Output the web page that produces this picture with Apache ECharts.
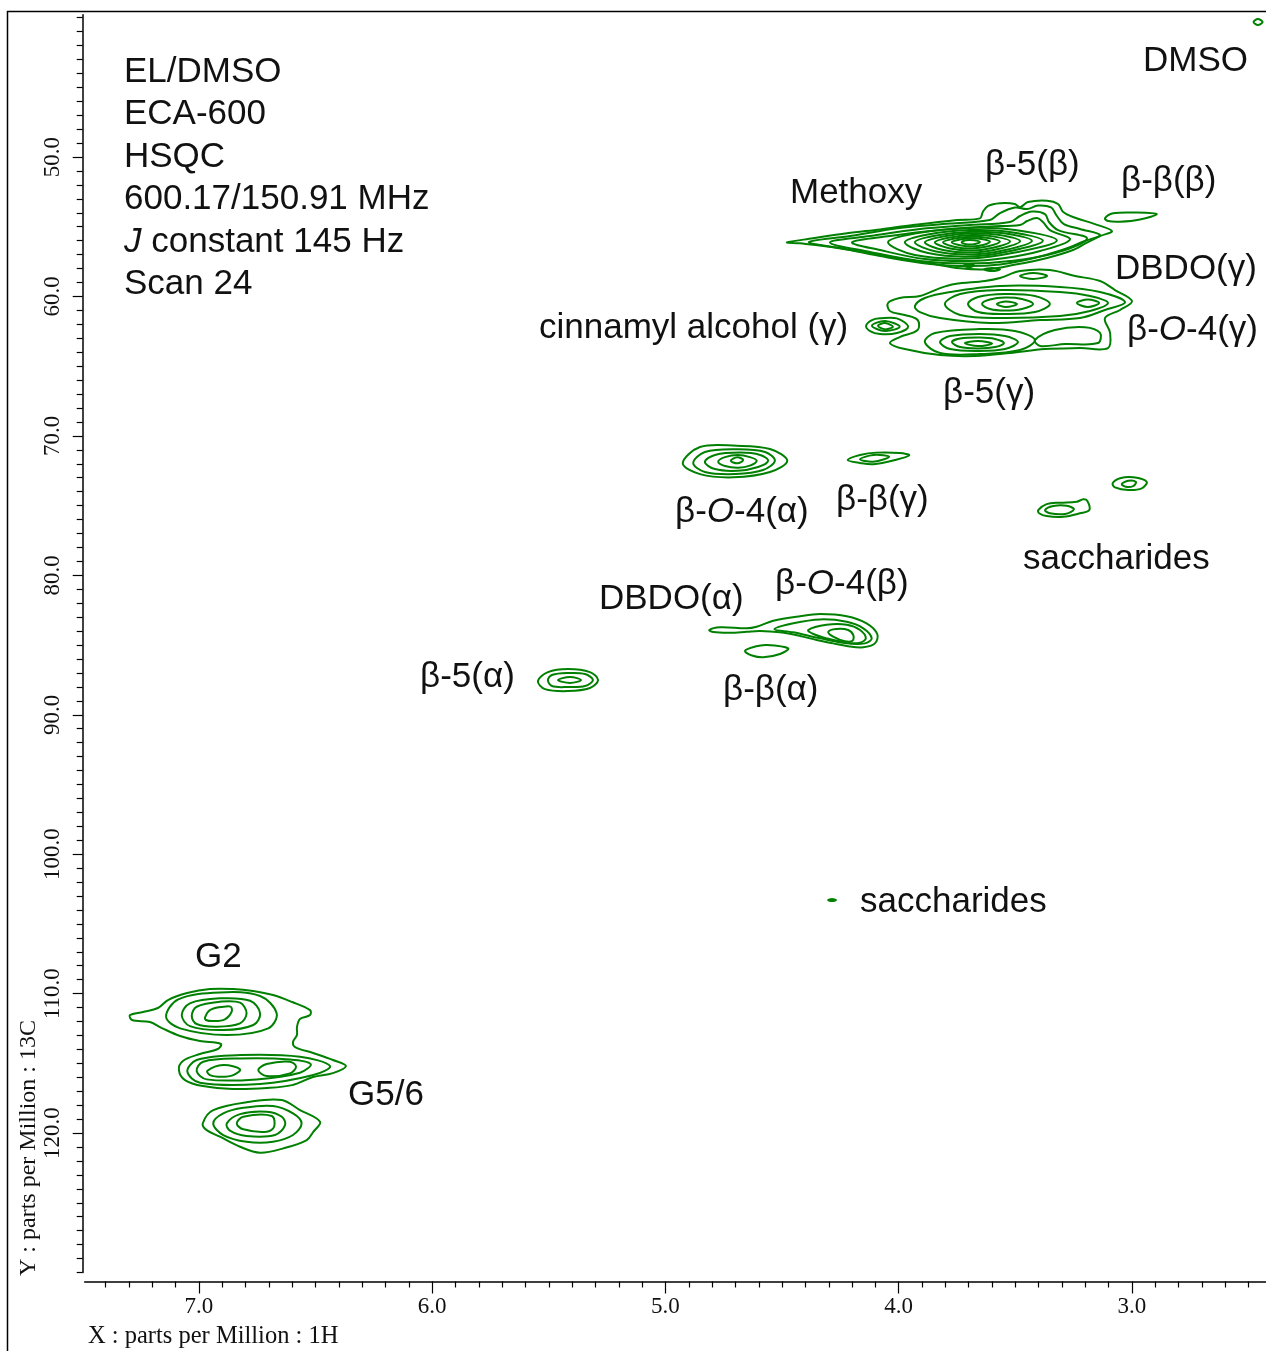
<!DOCTYPE html>
<html>
<head>
<meta charset="utf-8">
<title>EL/DMSO HSQC</title>
<script src="https://cdn.jsdelivr.net/npm/echarts@6.0.0/dist/echarts.min.js"></script>
<style>
  html, body { margin: 0; padding: 0; background: #fff; }
  #main { width: 1266px; height: 1351px; }
</style>
</head>
<body>
<div id="main"></div>
<script>
// axis ticks (ppm)
const xMajorTicks = [3, 4, 5, 6, 7];
const yMajorTicks = [50, 60, 70, 80, 90, 100, 110, 120];

// contour rings, [1H ppm, 13C ppm]
const dmsoRings = [
  [[2.479, 40.32], [2.460, 40.10], [2.440, 40.32], [2.460, 40.53]]
];
const methoxyRings = [
  [[4.479, 56.12], [4.368, 55.83], [4.222, 55.47], [4.080, 55.19], [3.939, 54.88], [3.750, 54.52], [3.652, 54.40], [3.639, 53.92], [3.617, 53.51], [3.566, 53.32], [3.502, 53.37], [3.480, 53.61], [3.446, 53.23], [3.364, 53.13], [3.317, 53.37], [3.296, 53.92], [3.253, 54.30], [3.159, 54.81], [3.086, 55.31], [3.137, 55.67], [3.197, 56.17], [3.253, 56.67], [3.364, 57.24], [3.510, 57.75], [3.622, 58.05], [3.737, 57.98], [3.866, 57.62], [4.080, 57.03], [4.295, 56.43], [4.423, 56.19]],
  [[4.385, 56.10], [4.209, 55.67], [3.996, 55.09], [3.780, 54.77], [3.609, 54.52], [3.566, 54.02], [3.502, 53.62], [3.450, 53.73], [3.403, 53.48], [3.347, 53.62], [3.322, 54.23], [3.292, 54.81], [3.223, 55.16], [3.137, 55.59], [3.202, 56.02], [3.300, 56.67], [3.437, 57.32], [3.566, 57.71], [3.703, 57.82], [3.866, 57.67], [4.080, 57.10], [4.252, 56.53]],
  [[4.295, 56.13], [4.123, 55.67], [3.909, 55.16], [3.695, 54.88], [3.523, 54.66], [3.480, 54.23], [3.429, 53.91], [3.373, 54.09], [3.356, 54.66], [3.317, 55.24], [3.193, 55.85], [3.330, 56.89], [3.523, 57.46], [3.703, 57.64], [3.909, 57.46], [4.123, 56.81]],
  [[4.200, 56.12], [4.038, 55.67], [3.823, 55.24], [3.609, 54.98], [3.480, 54.88], [3.450, 54.59], [3.407, 54.38], [3.382, 54.66], [3.352, 55.24], [3.266, 55.92], [3.394, 56.74], [3.544, 57.24], [3.703, 57.46], [3.888, 57.32], [4.080, 56.67]],
  [[4.046, 56.12], [3.931, 55.49], [3.703, 55.09], [3.502, 55.24], [3.322, 55.99], [3.502, 56.85], [3.703, 57.28], [3.931, 57.03]],
  [[3.974, 56.12], [3.875, 55.56], [3.695, 55.24], [3.532, 55.36], [3.382, 56.01], [3.532, 56.78], [3.695, 57.14], [3.875, 56.89]],
  [[3.931, 56.12], [3.840, 55.63], [3.686, 55.36], [3.549, 55.47], [3.429, 56.02], [3.549, 56.69], [3.686, 56.99], [3.840, 56.78]],
  [[3.888, 56.12], [3.810, 55.70], [3.686, 55.47], [3.574, 55.58], [3.480, 56.04], [3.574, 56.60], [3.686, 56.85], [3.810, 56.67]],
  [[3.845, 56.12], [3.780, 55.77], [3.686, 55.59], [3.596, 55.69], [3.523, 56.05], [3.596, 56.50], [3.686, 56.71], [3.780, 56.56]],
  [[3.810, 56.12], [3.759, 55.85], [3.686, 55.72], [3.617, 55.80], [3.566, 56.06], [3.617, 56.40], [3.686, 56.56], [3.759, 56.45]],
  [[3.773, 56.12], [3.737, 55.92], [3.686, 55.83], [3.639, 55.90], [3.609, 56.08], [3.639, 56.31], [3.686, 56.42], [3.737, 56.33]],
  [[3.730, 56.12], [3.712, 55.97], [3.677, 55.97], [3.652, 56.10], [3.677, 56.25], [3.712, 56.25]],
  [[3.720, 57.78], [3.699, 57.67], [3.677, 57.78], [3.699, 57.89]],
  [[3.634, 58.07], [3.600, 57.96], [3.566, 58.07], [3.600, 58.18]]
];
const betaBetaBetaRings = [
  [[3.116, 54.40], [3.081, 54.04], [2.987, 53.98], [2.894, 54.09], [2.966, 54.48], [3.051, 54.64], [3.103, 54.59]]
];
const sideChainRings = [
  [[4.046, 60.47], [3.996, 60.11], [3.909, 59.97], [3.823, 59.40], [3.759, 59.11], [3.630, 58.89], [3.566, 58.68], [3.480, 58.18], [3.352, 58.10], [3.244, 58.53], [3.137, 58.89], [3.073, 59.54], [3.000, 60.33], [3.051, 60.97], [3.116, 61.55], [3.094, 62.62], [3.103, 63.70], [3.223, 63.70], [3.373, 63.77], [3.523, 64.06], [3.673, 64.27], [3.823, 64.20], [3.974, 63.77], [4.038, 63.34], [3.996, 62.91], [3.919, 62.41], [3.919, 61.69], [3.974, 61.33], [4.038, 61.04]],
  [[3.931, 60.69], [3.888, 60.11], [3.780, 59.68], [3.566, 59.25], [3.309, 59.32], [3.137, 59.68], [3.030, 60.40], [3.116, 60.97], [3.223, 61.55], [3.394, 61.69], [3.609, 61.91], [3.823, 61.55], [3.909, 61.12]],
  [[3.802, 60.54], [3.737, 59.83], [3.566, 59.54], [3.309, 59.68], [3.180, 59.97], [3.103, 60.47], [3.180, 61.04], [3.309, 61.40], [3.566, 61.55], [3.737, 61.33]],
  [[3.703, 60.54], [3.660, 60.04], [3.544, 59.83], [3.416, 59.97], [3.352, 60.54], [3.416, 61.12], [3.544, 61.26], [3.660, 61.12]],
  [[3.643, 60.54], [3.609, 60.22], [3.544, 60.08], [3.472, 60.18], [3.424, 60.54], [3.472, 60.90], [3.544, 61.01], [3.609, 60.90]],
  [[3.579, 60.54], [3.540, 60.36], [3.493, 60.54], [3.540, 60.76]],
  [[3.236, 60.47], [3.189, 60.22], [3.141, 60.47], [3.189, 60.76]],
  [[3.416, 63.12], [3.331, 62.41], [3.202, 62.20], [3.137, 62.62], [3.146, 63.34], [3.287, 63.41], [3.394, 63.55]],
  [[3.888, 63.27], [3.845, 62.62], [3.652, 62.34], [3.502, 62.48], [3.416, 63.12], [3.480, 63.84], [3.652, 64.13], [3.823, 64.06]],
  [[3.823, 63.27], [3.780, 62.84], [3.652, 62.69], [3.544, 62.84], [3.489, 63.27], [3.544, 63.77], [3.660, 63.91], [3.780, 63.77]],
  [[3.772, 63.27], [3.737, 63.02], [3.652, 62.95], [3.587, 63.05], [3.549, 63.34], [3.587, 63.63], [3.660, 63.73], [3.737, 63.63]],
  [[3.716, 63.34], [3.660, 63.20], [3.600, 63.38], [3.660, 63.56]],
  [[3.480, 58.53], [3.424, 58.32], [3.364, 58.53], [3.424, 58.75]]
];
const cinnamylRings = [
  [[4.140, 62.10], [4.115, 61.69], [4.080, 61.57], [4.008, 61.57], [3.960, 62.17], [4.008, 62.62], [4.080, 62.69], [4.123, 62.48]],
  [[4.115, 62.10], [4.059, 61.76], [3.996, 62.17], [4.059, 62.48]],
  [[4.089, 62.10], [4.059, 61.91], [4.025, 62.17], [4.059, 62.36]]
];
const betaO4AlphaRings = [
  [[4.926, 71.97], [4.852, 70.80], [4.695, 70.71], [4.552, 70.94], [4.478, 71.78], [4.552, 72.59], [4.709, 72.97], [4.852, 72.74]],
  [[4.881, 71.94], [4.831, 71.15], [4.691, 70.96], [4.573, 71.15], [4.531, 71.78], [4.582, 72.45], [4.700, 72.74], [4.831, 72.59]],
  [[4.831, 71.87], [4.788, 71.37], [4.680, 71.20], [4.594, 71.37], [4.560, 71.78], [4.603, 72.23], [4.691, 72.50], [4.788, 72.38]],
  [[4.774, 71.85], [4.745, 71.52], [4.689, 71.37], [4.638, 71.52], [4.609, 71.78], [4.638, 72.13], [4.689, 72.28], [4.745, 72.16]],
  [[4.720, 71.78], [4.692, 71.54], [4.667, 71.73], [4.692, 71.97]]
];
const betaBetaGammaRings = [
  [[4.219, 71.73], [4.166, 71.37], [4.095, 71.20], [3.996, 71.23], [3.955, 71.39], [4.016, 71.73], [4.109, 72.03], [4.166, 71.94]],
  [[4.166, 71.68], [4.109, 71.37], [4.041, 71.49], [4.109, 71.85]]
];
const saccharideRings = [
  [[3.402, 75.32], [3.366, 74.89], [3.309, 74.79], [3.237, 74.72], [3.209, 74.55], [3.192, 74.65], [3.183, 75.32], [3.223, 75.55], [3.295, 75.80], [3.366, 75.75], [3.398, 75.55]],
  [[3.373, 75.32], [3.337, 75.03], [3.280, 75.01], [3.249, 75.27], [3.287, 75.60], [3.352, 75.55]],
  [[3.083, 73.40], [3.051, 73.04], [2.994, 72.97], [2.937, 73.29], [2.958, 73.76], [3.016, 73.88], [3.073, 73.69]],
  [[3.044, 73.45], [3.016, 73.22], [2.983, 73.31], [2.995, 73.60], [3.026, 73.65]],
  [[4.303, 103.29], [4.286, 103.22], [4.269, 103.29], [4.286, 103.36]]
];
const betaO4BetaRings = [
  [[4.812, 83.92], [4.766, 83.73], [4.652, 83.80], [4.609, 83.69], [4.538, 83.26], [4.423, 82.93], [4.337, 82.78], [4.223, 82.93], [4.138, 83.44], [4.092, 84.21], [4.102, 84.88], [4.152, 85.16], [4.223, 85.07], [4.281, 84.88], [4.352, 84.64], [4.423, 84.35], [4.509, 84.09], [4.595, 83.99], [4.652, 84.05], [4.724, 84.12], [4.795, 84.07]],
  [[4.533, 83.87], [4.452, 83.44], [4.337, 83.16], [4.223, 83.33], [4.152, 83.80], [4.116, 84.52], [4.145, 84.88], [4.223, 84.88], [4.337, 84.52], [4.452, 84.09]],
  [[4.388, 83.92], [4.309, 83.55], [4.223, 83.55], [4.166, 83.92], [4.141, 84.52], [4.166, 84.83], [4.223, 84.83], [4.309, 84.52], [4.366, 84.21]],
  [[4.302, 84.05], [4.267, 83.85], [4.217, 83.92], [4.195, 84.28], [4.198, 84.69], [4.231, 84.73], [4.281, 84.40]]
];
const betaBetaAlphaRings = [
  [[4.659, 85.41], [4.616, 85.11], [4.566, 85.00], [4.474, 85.24], [4.509, 85.64], [4.581, 85.88], [4.629, 85.75]]
];
const beta5AlphaRings = [
  [[5.547, 87.58], [5.504, 86.94], [5.418, 86.72], [5.324, 86.94], [5.289, 87.51], [5.324, 88.08], [5.418, 88.30], [5.517, 88.16]],
  [[5.504, 87.51], [5.487, 87.15], [5.418, 87.01], [5.345, 87.08], [5.311, 87.51], [5.345, 87.94], [5.418, 88.01], [5.487, 87.94]],
  [[5.461, 87.51], [5.409, 87.29], [5.362, 87.51], [5.409, 87.72]]
];
const aromaticRings = [
  // G2 + G5/6 shared outer level
  [[7.296, 111.54], [7.240, 111.32], [7.176, 111.03], [7.133, 110.46], [7.051, 109.96], [6.953, 109.67], [6.854, 109.67], [6.768, 109.81], [6.683, 110.10], [6.601, 110.60], [6.524, 111.18], [6.524, 111.54], [6.567, 111.82], [6.580, 112.40], [6.580, 112.97], [6.597, 113.47], [6.588, 113.83], [6.511, 114.26], [6.426, 114.76], [6.370, 115.19], [6.426, 115.70], [6.511, 115.98], [6.601, 116.56], [6.708, 116.77], [6.854, 116.84], [6.983, 116.63], [7.060, 116.20], [7.086, 115.48], [7.069, 114.83], [6.996, 114.33], [6.919, 113.97], [6.906, 113.61], [6.996, 113.40], [7.081, 113.04], [7.159, 112.47], [7.210, 112.04], [7.287, 111.89]],
  // G2
  [[7.141, 111.66], [7.089, 110.41], [6.910, 109.91], [6.738, 110.17], [6.667, 111.41], [6.703, 112.49], [6.881, 112.97], [7.081, 112.49]],
  [[7.074, 111.54], [7.039, 110.70], [6.910, 110.34], [6.781, 110.51], [6.738, 111.41], [6.767, 112.25], [6.896, 112.61], [7.039, 112.33]],
  [[7.031, 111.61], [7.010, 110.94], [6.910, 110.58], [6.824, 110.65], [6.796, 111.41], [6.824, 112.13], [6.924, 112.37], [7.010, 112.18]],
  [[6.974, 111.70], [6.953, 111.18], [6.896, 110.94], [6.864, 110.94], [6.860, 111.30], [6.889, 111.84], [6.939, 111.97], [6.970, 111.89]],
  // G5/6
  [[7.050, 115.60], [7.010, 114.76], [6.824, 114.41], [6.567, 114.53], [6.438, 115.19], [6.510, 115.84], [6.738, 116.48], [6.996, 116.39]],
  [[7.010, 115.55], [6.982, 114.88], [6.824, 114.65], [6.610, 114.72], [6.521, 115.05], [6.567, 115.67], [6.753, 116.15], [6.967, 116.15]],
  [[6.964, 115.53], [6.896, 115.12], [6.824, 115.43], [6.853, 115.84], [6.903, 115.96], [6.953, 115.84]],
  [[6.746, 115.48], [6.710, 115.05], [6.610, 114.88], [6.584, 115.24], [6.610, 115.72], [6.710, 115.91]],
  // G6 lower peak
  [[6.984, 119.31], [6.939, 118.35], [6.781, 117.75], [6.645, 117.63], [6.567, 118.35], [6.481, 119.19], [6.510, 119.91], [6.538, 120.50], [6.639, 121.10], [6.738, 121.41], [6.824, 120.98], [6.910, 120.26], [6.967, 119.79]],
  [[6.939, 119.31], [6.896, 118.59], [6.810, 118.19], [6.683, 118.06], [6.597, 118.59], [6.560, 119.31], [6.597, 120.14], [6.683, 120.62], [6.796, 120.62], [6.896, 120.14]],
  [[6.881, 119.31], [6.824, 118.64], [6.710, 118.47], [6.645, 118.83], [6.631, 119.43], [6.674, 120.14], [6.796, 120.21], [6.867, 119.83]],
  [[6.838, 119.31], [6.810, 118.83], [6.688, 118.78], [6.678, 119.55], [6.710, 119.91], [6.810, 119.73]]
];

const infoLines = ['EL/DMSO', 'ECA-600', 'HSQC', '600.17/150.91 MHz', '{i|J} constant 145 Hz', 'Scan 24'];
const peakLabels = ['DMSO', 'Methoxy', 'β-5(β)', 'β-β(β)', 'DBDO(γ)', 'cinnamyl alcohol (γ)', 'β-{i|O}-4(γ)', 'β-5(γ)',
  'β-{i|O}-4(α)', 'β-β(γ)', 'saccharides', 'β-{i|O}-4(β)', 'DBDO(α)', 'β-β(α)', 'β-5(α)', 'saccharides', 'G2', 'G5/6'];

const allRings = [].concat(dmsoRings, methoxyRings, betaBetaBetaRings, sideChainRings, cinnamylRings,
  betaO4AlphaRings, betaBetaGammaRings, saccharideRings, betaO4BetaRings, betaBetaAlphaRings,
  beta5AlphaRings, aromaticRings);

const xMinorTicks = [];
for (let k = 25; k <= 74; k++) if (k % 10) xMinorTicks.push(k / 10);
const yMinorTicks = [];
for (let v = 40; v <= 130; v++) if (yMajorTicks.indexOf(v) < 0) yMinorTicks.push(v);

const chart = echarts.init(document.getElementById('main'));

const sans = '"Liberation Sans", Arial, sans-serif';
const serif = '"Liberation Serif", "Times New Roman", serif';
const green = '#008000';

// text positions on the page (left edge, middle)
const labelPos = [[1143, 61], [790, 193], [985, 165], [1121, 181], [1115, 269], [539, 328], [1127, 330], [943, 393],
  [675, 512], [836, 500], [1023, 559], [775, 584], [599, 599], [723, 690], [420, 677], [860, 902], [195, 957], [348, 1095]];

function textEl(str, x, y, size) {
  return {
    type: 'text', x: x, y: y, silent: true,
    style: {
      text: str, fill: '#111', fontSize: size, fontFamily: sans,
      align: 'left', verticalAlign: 'middle',
      rich: { i: { fontStyle: 'italic', fontSize: size, fontFamily: sans, fill: '#111' } }
    }
  };
}

const graphics = [
  { type: 'polyline', silent: true, shape: { points: [[7.5, 1351], [7.5, 11.5], [1266, 11.5]] },
    style: { stroke: '#000', lineWidth: 1.5, fill: null } },
  { type: 'text', x: 88, y: 1337, silent: true,
    style: { text: 'X : parts per Million : 1H', fontSize: 24.5, fontFamily: serif, fill: '#111', align: 'left', verticalAlign: 'middle' } },
  { type: 'text', x: 29, y: 1276, rotation: Math.PI / 2, silent: true,
    style: { text: 'Y : parts per Million : 13C', fontSize: 24, fontFamily: serif, fill: '#111', align: 'left', verticalAlign: 'middle' } }
];
infoLines.forEach(function (s, i) { graphics.push(textEl(s, 124, 72 + i * 42.5, 35)); });
peakLabels.forEach(function (s, i) { graphics.push(textEl(s, labelPos[i][0], labelPos[i][1], 35)); });

// the plotted 1H window runs past the right edge of the page
function xAxisOf(ticks, len, labels) {
  return {
    type: 'value', min: 2.4255, max: 7.49, inverse: true, position: 'bottom', offset: 9,
    axisLine: { show: labels, lineStyle: { color: '#000', width: 1.5 } },
    axisTick: { show: true, customValues: ticks, length: len, lineStyle: { color: '#000', width: 1.2 } },
    axisLabel: {
      show: labels, customValues: xMajorTicks, margin: 14, color: '#111', fontSize: 23, fontFamily: serif,
      formatter: function (v) { return v.toFixed(1); }
    },
    splitLine: { show: false }
  };
}
function yAxisOf(ticks, len, labels) {
  return {
    type: 'value', min: 39.8, max: 130, inverse: true, position: 'left', offset: 2,
    axisLine: { show: labels, lineStyle: { color: '#000', width: 1.5 } },
    axisTick: { show: true, customValues: ticks, length: len, lineStyle: { color: '#000', width: 1.2 } },
    axisLabel: {
      show: labels, customValues: yMajorTicks, rotate: 90, margin: 18, color: '#111', fontSize: 23, fontFamily: serif,
      formatter: function (v) { return v.toFixed(1); }
    },
    splitLine: { show: false }
  };
}

const option = {
  animation: false,
  backgroundColor: '#fff',
  grid: { left: 84.7, top: 14.8, right: 0, height: 1257.7 },
  xAxis: [xAxisOf(xMajorTicks, 12, true), xAxisOf(xMinorTicks, 6, false)],
  yAxis: [yAxisOf(yMajorTicks, 10, true), yAxisOf(yMinorTicks, 6, false)],
  series: [{
    type: 'custom',
    silent: true,
    xAxisIndex: 0,
    yAxisIndex: 0,
    encode: { x: 0, y: 1 },
    data: allRings.map(function (r) { return r[0]; }),
    renderItem: function (params, api) {
      const ring = allRings[params.dataIndex];
      const pts = ring.map(function (p) { return api.coord(p); });
      return {
        type: 'polygon',
        shape: { points: pts, smooth: 0.35 },
        style: { fill: 'none', stroke: green, lineWidth: 2 }
      };
    }
  }],
  graphic: graphics
};

chart.setOption(option);
</script>
</body>
</html>
